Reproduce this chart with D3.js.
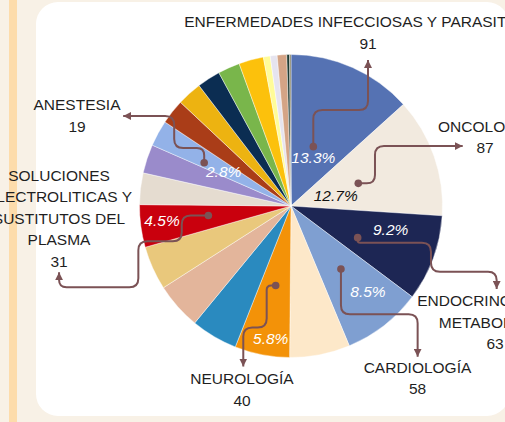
<!DOCTYPE html>
<meta charset="utf-8">
<html>
<head>
  <script src="https://d3js.org/d3.v7.min.js"></script>
  <style>
    body { margin: 0; background: #f8f1e6; }
    text { font-family: "Liberation Sans", Arial, sans-serif; }
  </style>
</head>
<body>
<div id="chart"></div>
<script>

// data (clockwise from 12 o'clock)
var categories = [
  "ENFERMEDADES INFECCIOSAS Y PARASITARIAS", "ONCOLOGÍA", "ENDOCRINOLOGÍA Y METABOLISMO",
  "CARDIOLOGÍA", "Otros 5", "NEUROLOGÍA", "Otros 7", "Otros 8", "Otros 9",
  "SOLUCIONES ELECTROLITICAS Y SUSTITUTOS DEL PLASMA", "Otros 11", "Otros 12", "ANESTESIA",
  "Otros 14", "Otros 15", "Otros 16", "Otros 17", "Otros 18", "Otros 19", "Otros 20",
  "Otros 21", "Otros 22", "Otros 23"
];
var values = [91, 87, 63, 58, 44, 40, 34, 34, 32, 31, 23, 21, 19, 18, 18, 17, 16, 18, 5, 5, 7, 2, 1];
var colors = [
  "#5572b3", "#f2eadf", "#1d2654", "#7f9fd1", "#fde8c9", "#f39208", "#2a8abf", "#e3b59b",
  "#e9c87c", "#c9000d", "#e5dcd0", "#9a8bcb", "#93b2e8", "#aa3d18", "#edb311", "#0b2d52",
  "#79b64b", "#fcc10c", "#fffc99", "#e6e4ef", "#d4a486", "#1f3b33", "#7d7a5a"
];

var W = 505, H = 422;
var cx = 291, cy = 206, R = 151.5;
var lineColor = "#7b5255";

// annotation layout: percent label (polar), dot (polar), leader moves, label block
var notes = [
  { i: 0, pr: 53, pa: 24.9, pcol: "#fff", dr: 63.4, da: 20.6,
    moves: [["v", -36.7], ["h", 54.7], ["v", -50]],
    lx: 368, ly: 27.3, lines: ["ENFERMEDADES INFECCIOSAS Y PARASITARIAS"] },
  { i: 1, pr: 46, pa: 76.4, pcol: "#111", dr: 71, da: 71.4,
    moves: [["h", 16.7], ["v", -37.3], ["h", 87.7]],
    lx: 485, ly: 131.7, lines: ["ONCOLOGÍA"] },
  { i: 2, pr: 102.4, pa: 103.3, pcol: "#fff", dr: 73.8, da: 115.4,
    moves: [["v", 5], ["h", 73.3], ["v", 29], ["h", 65.7], ["v", 17.3]],
    lx: 495, ly: 306, lines: ["ENDOCRINOLOGÍA Y", "METABOLISMO"] },
  { i: 3, pr: 114.8, pa: 137.9, pcol: "#fff", dr: 80.4, da: 141.6,
    moves: [["v", 45.3], ["h", 76.7], ["v", 42.4]],
    lx: 417.5, ly: 372.7, lines: ["CARDIOLOGÍA"] },
  { i: 5, pr: 134, pa: 188.7, pcol: "#fff", dr: 81, da: 190.9,
    moves: [["h", -9], ["v", 42], ["h", -23.4], ["v", 39]],
    lx: 242, ly: 384.3, lines: ["NEUROLOGÍA"] },
  { i: 9, pr: 129.8, pa: 263.6, pcol: "#fff", dr: 83.2, da: 263.4,
    moves: [["h", -26.6], ["v", 25.7], ["h", -43.4], ["v", 46], ["h", -79.3], ["v", -15]],
    lx: 59, ly: 180.7, lines: ["SOLUCIONES", "ELECTROLITICAS Y", "SUSTITUTOS DEL", "PLASMA"] },
  { i: 12, pr: 75.5, pa: 296.9, pcol: "#fff", dr: 97, da: 296.5,
    moves: [["v", -14.7], ["h", -30], ["v", -32], ["h", -51]],
    lx: 77, ly: 110, lines: ["ANESTESIA"] }
];

var total = d3.sum(values);

var svg = d3.select("#chart").append("svg")
  .attr("width", W)
  .attr("height", H);

svg.append("rect").attr("width", W).attr("height", H).attr("fill", "#f8f1e6");
svg.append("rect").attr("x", 9).attr("y", 0).attr("width", 8).attr("height", H).attr("fill", "#fddcab");
svg.append("rect").attr("x", 36).attr("y", 2).attr("width", 473).attr("height", 414)
  .attr("rx", 22).attr("fill", "#fff");

svg.append("defs").append("marker")
  .attr("id", "arrow")
  .attr("viewBox", "0 0 10 10")
  .attr("refX", 10).attr("refY", 5)
  .attr("markerUnits", "userSpaceOnUse")
  .attr("markerWidth", 8).attr("markerHeight", 8)
  .attr("orient", "auto")
  .append("path").attr("d", "M0,0 L10,5 L0,10 z").attr("fill", lineColor);

var pie = d3.pie().sort(null).value(function(d) { return d; });
var arcs = pie(values);
var arc = d3.arc().innerRadius(0).outerRadius(R);

var g = svg.append("g").attr("transform", "translate(" + cx + "," + cy + ")");

g.selectAll("path.slice")
  .data(arcs)
  .enter()
  .append("path")
  .attr("class", "slice")
  .attr("d", arc)
  .attr("fill", function(d, i) { return colors[i]; })
  .attr("stroke", "#fff")
  .attr("stroke-width", 0.6)
  .attr("stroke-opacity", 0.7);

function polar(r, deg) {
  var a = deg * Math.PI / 180;
  return [cx + r * Math.sin(a), cy - r * Math.cos(a)];
}

// build a path of horizontal / vertical moves with rounded corners
function leaderPath(start, moves) {
  var pts = [start.slice()];
  moves.forEach(function(m) {
    var p = pts[pts.length - 1];
    pts.push(m[0] == "h" ? [p[0] + m[1], p[1]] : [p[0], p[1] + m[1]]);
  });
  var d = "M" + pts[0][0] + "," + pts[0][1];
  for (var k = 1; k < pts.length - 1; k++) {
    var a = pts[k - 1], b = pts[k], c = pts[k + 1];
    var l1 = Math.hypot(b[0] - a[0], b[1] - a[1]);
    var l2 = Math.hypot(c[0] - b[0], c[1] - b[1]);
    var r = Math.min(9, l1 / 2, l2 / 2);
    var p1 = [b[0] - (b[0] - a[0]) / l1 * r, b[1] - (b[1] - a[1]) / l1 * r];
    var p2 = [b[0] + (c[0] - b[0]) / l2 * r, b[1] + (c[1] - b[1]) / l2 * r];
    d += "L" + p1[0] + "," + p1[1] + "Q" + b[0] + "," + b[1] + " " + p2[0] + "," + p2[1];
  }
  var e = pts[pts.length - 1];
  d += "L" + e[0] + "," + e[1];
  return d;
}

notes.forEach(function(n) {
  var dot = polar(n.dr, n.da);
  svg.append("path")
    .attr("d", leaderPath(dot, n.moves))
    .attr("fill", "none")
    .attr("stroke", lineColor)
    .attr("stroke-width", 2)
    .attr("marker-end", "url(#arrow)");
  svg.append("circle")
    .attr("cx", dot[0]).attr("cy", dot[1]).attr("r", 3.8)
    .attr("fill", lineColor);

  var pp = polar(n.pr, n.pa);
  svg.append("text")
    .attr("x", pp[0]).attr("y", pp[1] + 5.5)
    .attr("text-anchor", "middle")
    .attr("font-size", "15.5px")
    .attr("font-style", "italic")
    .attr("fill", n.pcol)
    .text((values[n.i] / total * 100).toFixed(1) + "%");

  var t = svg.append("text")
    .attr("text-anchor", "middle")
    .attr("font-size", "15.5px")
    .attr("fill", "#1f1f1f");
  n.lines.concat([String(values[n.i])]).forEach(function(s, k) {
    t.append("tspan").attr("x", n.lx).attr("y", n.ly + k * 21.5).text(s);
  });
});

</script>
</body>
</html>
